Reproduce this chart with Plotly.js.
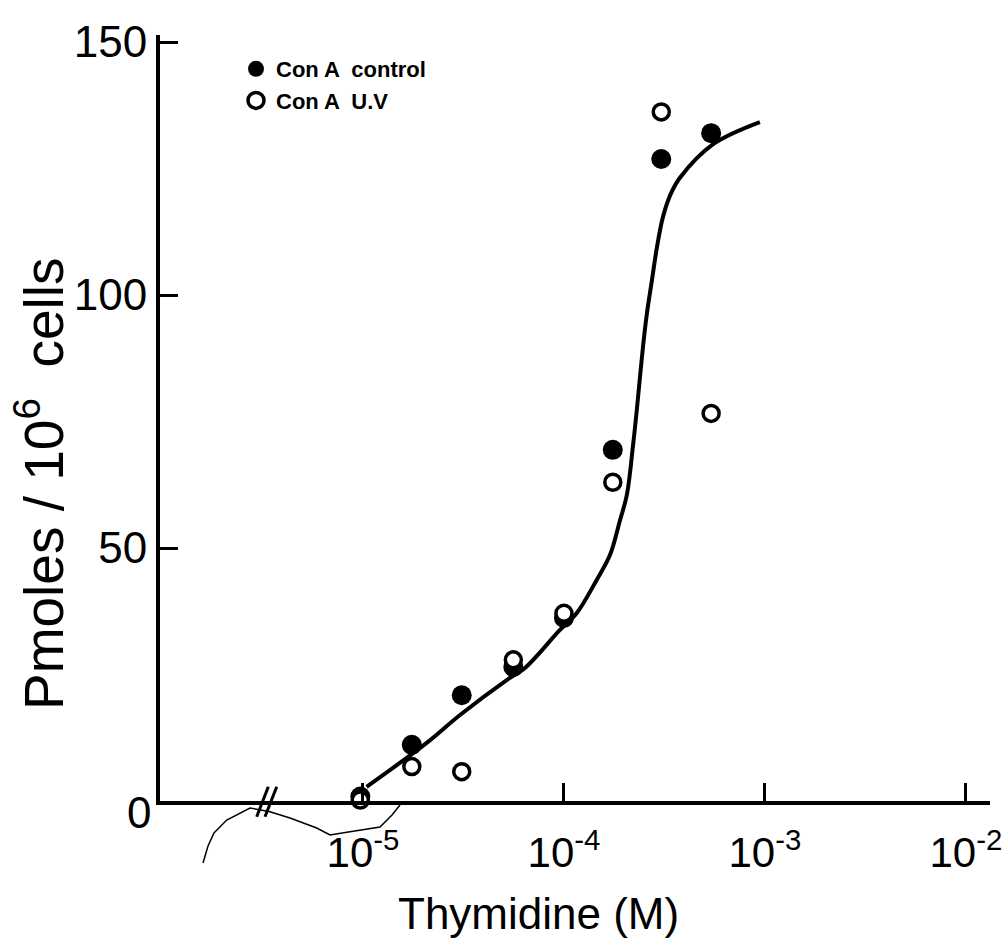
<!DOCTYPE html>
<html>
<head>
<meta charset="utf-8">
<script src="https://cdn.plot.ly/plotly-3.0.1.min.js"></script>
<style>html,body{margin:0;padding:0;background:#fff;}#chart{width:1005px;height:951px;}</style>
</head>
<body>
<div id="chart"></div>
<script>
// Thymidine concentration (M)
const conc = [0.97e-5, 1.75e-5, 3.1e-5, 5.6e-5, 1.0e-4, 1.75e-4, 3.05e-4, 5.4e-4];
// Pmoles / 10^6 cells
const conAControl = [0.9, 11.1, 20.9, 26.5, 36.2, 69.4, 126.9, 132.0];
const conAUV      = [0.2, 6.8, 5.8, 27.9, 37.1, 63.0, 136.2, 76.6];
// hand-drawn fitted curve
const curveX = [1.042e-5, 2.075e-5, 3.04e-5, 5.19e-5, 6.40e-5, 9.55e-5, 1.156e-4, 1.455e-4, 1.694e-4, 1.901e-4, 2.056e-4, 2.203e-4, 2.307e-4, 2.472e-4, 2.588e-4, 2.742e-4, 2.904e-4, 3.112e-4, 3.4e-4, 3.776e-4, 5.508e-4, 9.44e-4];
const curveY = [2.8, 11.5, 17.0, 23.9, 26.3, 33.8, 37.1, 43.7, 48.6, 55.5, 60.5, 70.0, 77.5, 89.7, 96.4, 103.0, 109.5, 115.5, 120.0, 123.2, 129.8, 134.2];
// axis ticks
const xTickVals = [1e-5, 1e-4, 1e-3, 1e-2];
const xTickText = ['10<sup>-5</sup>', '10<sup>-4</sup>', '10<sup>-3</sup>', '10<sup>-2</sup>'];
const yTickVals = [50, 100, 150];
const yTickText = ['50', '100', '150'];

const W = 1005, H = 951;
const M = {l: 160, r: 15, t: 35, b: 150};
const pw = W - M.l - M.r, ph = H - M.t - M.b;
const px = p => (p - M.l) / pw;
const py = q => (H - M.b - q) / ph;

const FONT = 'Liberation Sans, Arial, sans-serif';

const traces = [
  {x: curveX, y: curveY, mode: 'lines', line: {color: '#000', width: 4, shape: 'spline', smoothing: 1}, showlegend: false, hoverinfo: 'skip'},
  {x: conc, y: conAControl, mode: 'markers', name: '<b>Con A  control</b>', marker: {symbol: 'circle', size: 20, color: '#000'}, cliponaxis: false},
  {x: conc, y: conAUV, mode: 'markers', name: '<b>Con A  U.V</b>', marker: {symbol: 'circle', size: 16, color: '#fff', line: {color: '#000', width: 3.5}}, cliponaxis: false}
];

const squiggle = [[203,863],[208,846],[214,833],[226.7,820],[250,808],[270,811.7],[290,818],[316.7,828],[330,835],[350,831.7],[380,827],[392,815],[400,805]];
let path = 'M ' + px(squiggle[0][0]) + ' ' + py(squiggle[0][1]);
for (let i = 1; i < squiggle.length; i++) path += ' L ' + px(squiggle[i][0]) + ' ' + py(squiggle[i][1]);

const layout = {
  width: W, height: H,
  margin: M,
  paper_bgcolor: '#fff', plot_bgcolor: '#fff',
  font: {family: FONT, color: '#000'},
  showlegend: true,
  legend: {x: px(236), y: py(48), xanchor: 'left', yanchor: 'top', font: {size: 22, family: FONT, color: '#000'}, bgcolor: 'rgba(0,0,0,0)', tracegroupgap: 0},
  xaxis: {
    type: 'log', range: [-6.01, -1.88],
    showline: true, linecolor: '#000', linewidth: 4,
    ticks: 'inside', ticklen: 18, tickwidth: 3, tickcolor: '#000',
    tickvals: xTickVals, ticktext: xTickText,
    tickfont: {size: 42, family: FONT, color: '#000'},
    ticklabelstandoff: 12,
    showgrid: false, zeroline: false
  },
  yaxis: {
    range: [0, 151.4],
    showline: true, linecolor: '#000', linewidth: 4,
    ticks: 'inside', ticklen: 18, tickwidth: 3, tickcolor: '#000',
    tickvals: yTickVals, ticktext: yTickText,
    tickfont: {size: 44, family: FONT, color: '#000'},
    showgrid: false, zeroline: false
  },
  annotations: [
    {text: '0', xref: 'paper', yref: 'paper', x: px(139), y: py(812), xanchor: 'center', yanchor: 'middle', showarrow: false, font: {size: 44, family: FONT}},
    {text: 'Thymidine (M)', xref: 'paper', yref: 'paper', x: px(538), y: py(913), xanchor: 'center', yanchor: 'middle', showarrow: false, font: {size: 44, family: FONT}},
    {text: 'Pmoles / 10<sup>6</sup>  cells', xref: 'paper', yref: 'paper', x: px(40), y: py(484), xanchor: 'center', yanchor: 'middle', textangle: -90, showarrow: false, font: {size: 55, family: FONT}}
  ],
  shapes: [
    {type: 'line', xref: 'paper', yref: 'paper', x0: px(256.7), y0: py(816.7), x1: px(268.3), y1: py(786.7), line: {color: '#000', width: 3}},
    {type: 'line', xref: 'paper', yref: 'paper', x0: px(265), y0: py(816.7), x1: px(276.7), y1: py(786.7), line: {color: '#000', width: 3}},
    {type: 'path', xref: 'paper', yref: 'paper', path: path, line: {color: '#000', width: 1.5}}
  ]
};

Plotly.newPlot('chart', traces, layout, {displayModeBar: false, staticPlot: true});
</script>
</body>
</html>
